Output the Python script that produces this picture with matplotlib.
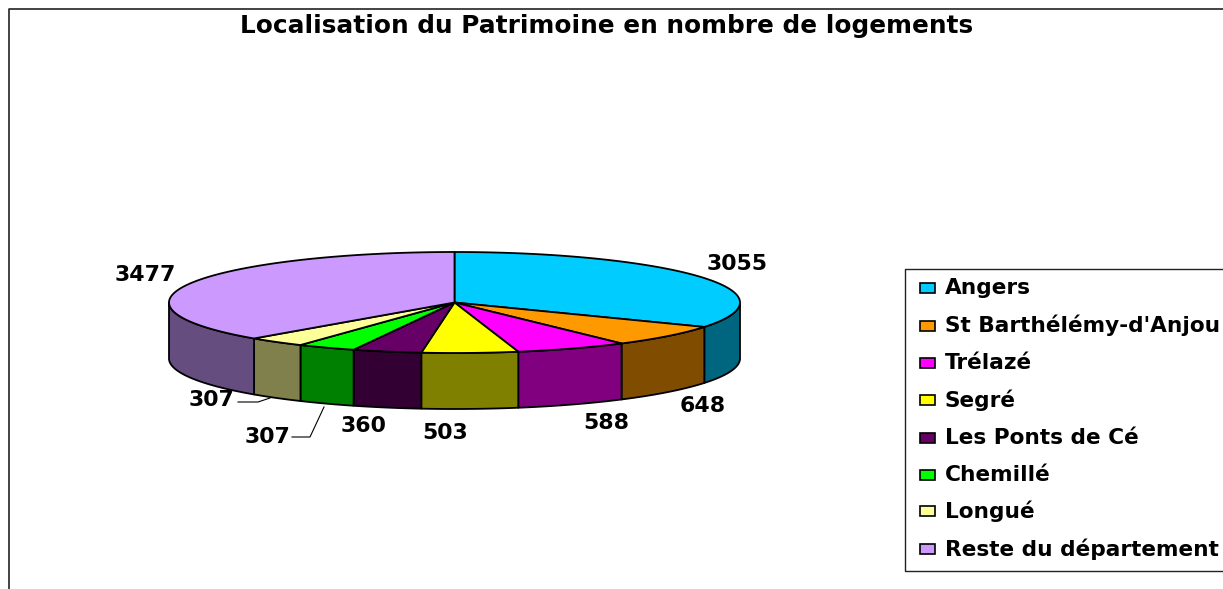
import numpy as np
import matplotlib
matplotlib.use("Agg")
import matplotlib.pyplot as plt
from matplotlib.patches import Polygon, Rectangle
from matplotlib.colors import to_rgb

# Data
communes = ["Angers", "St Barthélémy-d'Anjou", "Trélazé", "Segré",
            "Les Ponts de Cé", "Chemillé", "Longué", "Reste du département"]
logements = [3055, 648, 588, 503, 360, 307, 307, 3477]
couleurs = ["#00CCFF", "#FF9900", "#FF00FF", "#FFFF00",
            "#660066", "#00FF00", "#FFFF99", "#CC99FF"]
titre = "Localisation du Patrimoine en nombre de logements"

plt.rcParams["font.family"] = ["DejaVu Sans"]
plt.rcParams["font.weight"] = "bold"

fig = plt.figure(figsize=(12.23, 5.89), dpi=100)
ax = fig.add_axes([0, 0, 1, 1])
ax.set_xlim(0, 1223)
ax.set_ylim(589, 0)
ax.axis("off")

# Outer frame, cut by the image edges
ax.plot([9, 9, 1223], [589, 9, 9], color="#222222", lw=1.2)
ax.text(607, 26, titre, ha="center", va="center", fontsize=17.8)

# Pie geometry
cx, cy = 454.5, 302.5
rx, ry = 285.5, 50.5
depth = 56


def ellipse_pts(t1, t2):
    t = np.radians(np.linspace(t1, t2, 120))
    return cx + rx * np.cos(t), cy - ry * np.sin(t)


total = sum(logements)
debut = 90.0
bornes = []
for v in logements:
    fin = debut - v / total * 360
    bornes.append((debut, fin))
    debut = fin

# Side walls (only the front half of the disc shows)
for (d, f), c in zip(bornes, couleurs):
    d2 = min(d, 0)
    f2 = max(f, -180)
    if d2 <= f2:
        continue
    x, y = ellipse_pts(d2, f2)
    pts = np.r_[np.c_[x, y], np.c_[x[::-1], y[::-1] + depth]]
    sombre = tuple(0.5 * k for k in to_rgb(c))
    ax.add_patch(Polygon(pts, closed=True, fc=sombre, ec="black", lw=1.3, joinstyle="round"))

# Top faces
for (d, f), c in zip(bornes, couleurs):
    x, y = ellipse_pts(d, f)
    pts = np.r_[[[cx, cy]], np.c_[x, y]]
    ax.add_patch(Polygon(pts, closed=True, fc=c, ec="black", lw=1.3, joinstyle="round"))

# Value labels
pos_labels = [(737, 264), (703, 406), (606, 423), (445, 433),
              (364, 426), (267, 437), (212, 400), (145, 275)]
for v, (x, y) in zip(logements, pos_labels):
    ax.text(x, y, str(v), ha="center", va="center", fontsize=15.8)

# Leader lines for the two small slices
ax.plot([292, 310, 324], [437, 437, 407], color="black", lw=0.8)
ax.plot([238, 258, 270], [402, 402, 398], color="black", lw=0.8)

# Legend
ax.plot([1223, 905, 905, 1223], [269, 269, 570.5, 570.5], color="#222222", lw=1.0)
ligne_y = [288, 325.5, 363, 400, 438, 475, 511, 549]
for nom, c, y in zip(communes, couleurs, ligne_y):
    ax.add_patch(Rectangle((920, y - 5), 15, 10, fc=c, ec="black", lw=1.2))
    ax.text(945, y, nom, ha="left", va="center", fontsize=15.6)

fig.savefig("out.png", dpi=100)
